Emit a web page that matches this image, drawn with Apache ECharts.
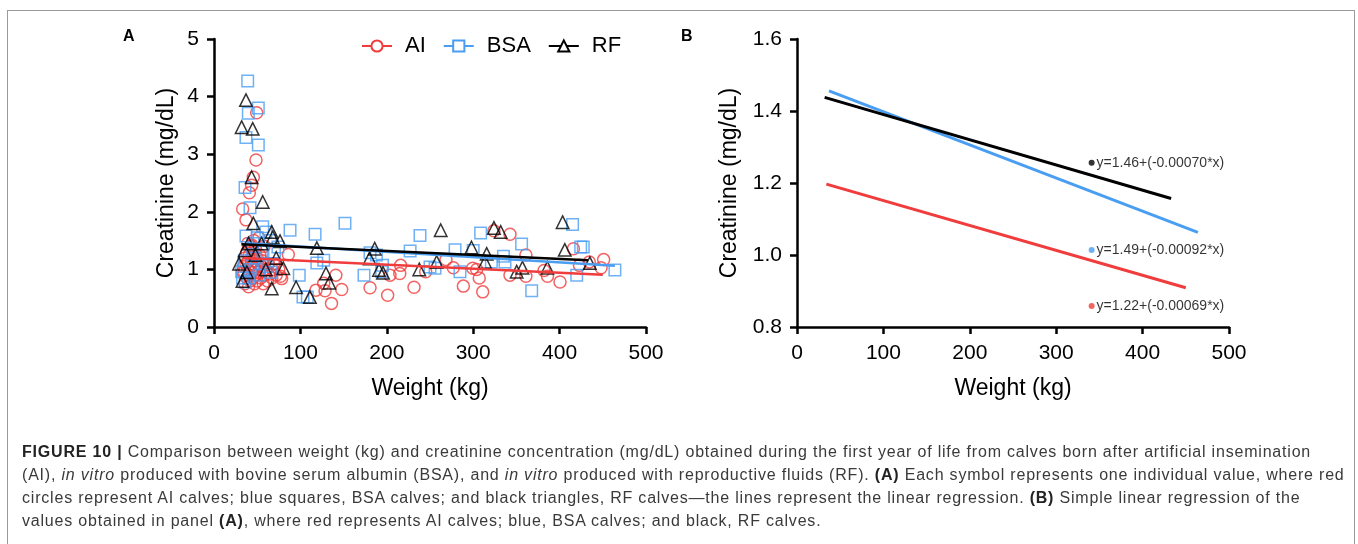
<!DOCTYPE html>
<html>
<head>
<meta charset="utf-8">
<script src="https://cdn.jsdelivr.net/npm/echarts@6/dist/echarts.min.js"></script>
<style>
  html, body { margin: 0; padding: 0; background: #fff; }
  #frame { position: absolute; left: 7px; top: 10px; width: 1348px; height: 600px; border: 1.5px solid #9a9a9a; border-bottom: none; box-sizing: border-box; }
  #chart { position: absolute; left: 0; top: 0; width: 1358px; height: 544px; }
  #caption { position: absolute; left: 22px; top: 440px; width: 1330px; font-family: "Liberation Sans", Arial, sans-serif; font-size: 16px; letter-spacing: 0.8px; line-height: 23px; color: #3a3a3a; white-space: nowrap; }
  #caption b { color: #222; }
</style>
</head>
<body>
<div id="frame"></div>
<div id="chart"></div>
<div id="caption">
<b>FIGURE 10 |</b> Comparison between weight (kg) and creatinine concentration (mg/dL) obtained during the first year of life from calves born after artificial insemination<br>
(AI), <i>in vitro</i> produced with bovine serum albumin (BSA), and <i>in vitro</i> produced with reproductive fluids (RF). <b>(A)</b> Each symbol represents one individual value, where red<br>
circles represent AI calves; blue squares, BSA calves; and black triangles, RF calves—the lines represent the linear regression. <b>(B)</b> Simple linear regression of the<br>
values obtained in panel <b>(A)</b>, where red represents AI calves; blue, BSA calves; and black, RF calves.
</div>
<script>
// ---- data: [weight kg, creatinine mg/dL] ----
const groupNames = ['AI', 'BSA', 'RF'];

const aiPoints = [
  [49.4,3.72],[48.6,2.90],[45.5,2.60],[43.6,2.46],[40.9,2.33],[33.2,2.05],[37,1.86],[86,1.26],[78.3,0.84],[69,1.10],
  [141,0.90],[127,0.76],[118,0.64],[128.5,0.63],[147.8,0.65],[136,0.41],
  [180.6,0.68],[201,0.55],[203.7,0.90],[216,1.07],[215,0.93],[231.5,0.69],[245,0.96],[268.5,1.17],[277,1.03],
  [288.6,0.71],[299.4,1.02],[304,1.00],[307,0.85],[311,0.61],[324,1.67],[342.6,1.61],[342.6,0.90],[361,1.25],
  [361,0.88],[382,0.98],[386,0.88],[400.5,0.78],[416,1.36],[423,1.07],[434.4,1.13],[448,1.03],[451,1.17],
  [34,1.05],[35,0.95],[36,1.20],[37,1.10],[38,0.85],[38,1.30],[39,1.00],[40,1.15],[40,0.90],[41,1.25],
  [42,1.05],[42,0.80],[43,1.40],[43,1.10],[44,0.95],[44,1.20],[45,1.30],[45,0.85],[46,1.05],[46,1.50],
  [47,1.15],[48,0.90],[48,1.35],[49,1.00],[50,1.20],[50,0.80],[51,1.10],[52,0.95],[53,1.25],[54,0.85],
  [55,1.05],[56,1.15],[58,0.90],[58,1.40],[60,1.00],[62,0.80],[63,1.10],[65,0.92],[67,0.85],[68,1.00],
  [70,1.10],[72,0.90],[36,0.75],[40,0.70],[47,0.75],[33,0.95],[52,1.55],[44,1.42],[57,0.75],[39,1.45],
  [75,1.00],[77,0.88]
];

const bsaPoints = [
  [39,4.27],[51.3,3.80],[39.7,3.71],[37,3.29],[51.3,3.16],[35.9,2.42],[41.7,2.07],[56.4,1.74],[37,1.58],
  [88,1.68],[117,1.61],[151.6,1.80],[127,1.16],[119,1.11],[98.7,0.90],[103,0.52],[108,0.52],[74,1.39],
  [173.6,0.90],[180.6,1.29],[188,1.25],[194,0.96],[195,1.07],[227,1.32],[238.4,1.59],[250,1.04],[255.8,1.02],
  [279,1.34],[284.7,0.96],[300,1.33],[308.6,1.63],[321,1.13],[335,1.23],[336.8,1.13],[356,1.44],[367.7,0.63],
  [415,1.78],[419.8,0.90],[424.4,1.39],[427.4,1.39],[464,0.99],
  [32,0.96],[36,0.78],[35,1.15],[40,0.85],[42,1.00],[45,1.45],[48,1.20],[52,0.90],[55,1.30],[58,1.10],
  [62,1.05],[65,1.50],[70,1.30],[60,1.65],[50,1.55],[33,0.85],[44,1.25],[66,0.95]
];

const rfPoints = [
  [37,3.94],[32,3.47],[44.8,3.44],[43.6,2.60],[56.4,2.17],[45.5,1.80],[66.8,1.65],[76.4,1.49],[119,1.37],
  [129.6,0.93],[133.5,0.77],[95,0.69],[111,0.52],[80.2,1.02],[66.8,0.67],
  [186,1.36],[180,1.19],[191,0.99],[195.6,0.94],[237.6,1.00],[257.7,1.13],[262.4,1.68],[298,1.38],[315.6,1.27],
  [313.7,1.13],[324,1.72],[331.8,1.65],[350.3,0.96],[357,1.03],[385.8,1.03],[403.5,1.82],[406,1.34],[435,1.11],
  [29,1.10],[33,0.80],[35.5,1.33],[40,1.45],[48,1.25],[55,1.45],[60,1.00],[68,1.56],[72,1.20],[38,0.95]
];

// regression line end points [weight, creatinine]
const aiFit  = [[34, 1.197], [450, 0.909]];
const bsaFit = [[37, 1.456], [464, 1.063]];
const rfFit  = [[32, 1.438], [433, 1.157]];

const equations = ['y=1.22+(-0.00069*x)', 'y=1.49+(-0.00092*x)', 'y=1.46+(-0.00070*x)'];

// ---- styles ----
const RED = '#f03c3c', BLUE = '#4a9ef2', BLACK = '#000000';
const FONT = '"Liberation Sans", Arial, sans-serif';

function xAxisDef(gi) {
  return {
    gridIndex: gi, type: 'value', min: 0, max: 500, interval: 100,
    name: 'Weight (kg)', nameLocation: 'middle', nameGap: 50,
    nameTextStyle: { fontSize: 23, color: '#000', fontFamily: FONT },
    axisLine: { show: true, lineStyle: { color: '#000', width: 2.5 } },
    axisTick: { show: true, inside: false, length: 7, lineStyle: { color: '#000', width: 2.5 } },
    axisLabel: { fontSize: 21, color: '#000', fontFamily: FONT, margin: 16 },
    splitLine: { show: false }
  };
}
function yAxisDef(gi, min, max, interval, gap, fmt) {
  return {
    gridIndex: gi, type: 'value', min: min, max: max, interval: interval,
    name: 'Creatinine (mg/dL)', nameLocation: 'middle', nameGap: gap,
    nameTextStyle: { fontSize: 23, color: '#000', fontFamily: FONT },
    axisLine: { show: true, lineStyle: { color: '#000', width: 2.5 } },
    axisTick: { show: true, inside: false, length: 7, lineStyle: { color: '#000', width: 2.5 } },
    axisLabel: { fontSize: 21, color: '#000', fontFamily: FONT, margin: 15, formatter: fmt },
    splitLine: { show: false }
  };
}

function scatterDef(name, data, symbol, color, size) {
  return {
    name: name, type: 'scatter', xAxisIndex: 0, yAxisIndex: 0, data: data,
    symbol: symbol, symbolSize: size, z: 2,
    itemStyle: { color: 'rgba(0,0,0,0)', borderColor: color, borderWidth: 1.5 },
    emphasis: { disabled: true }
  };
}
function fitDef(name, data, color, symbol, gi, width) {
  return {
    name: name, type: 'line', xAxisIndex: gi, yAxisIndex: gi, data: data,
    symbol: symbol, showSymbol: false, symbolSize: 11, z: 3,
    itemStyle: { color: color },
    lineStyle: { color: color, width: width },
    emphasis: { disabled: true }
  };
}

const chart = echarts.init(document.getElementById('chart'), null, { renderer: 'canvas' });
chart.setOption({
  animation: false,
  backgroundColor: 'transparent',
  textStyle: { fontFamily: FONT },
  grid: [
    { left: 214, top: 39, width: 432, height: 288 },
    { left: 797, top: 39, width: 432, height: 288 }
  ],
  xAxis: [xAxisDef(0), xAxisDef(1)],
  yAxis: [
    yAxisDef(0, 0, 5, 1, 36, v => String(v)),
    yAxisDef(1, 0.8, 1.6, 0.2, 56, v => v.toFixed(1))
  ],
  legend: {
    data: groupNames,
    left: 356, top: 30,
    itemWidth: 30, itemHeight: 14, itemGap: 17,
    textStyle: { fontSize: 22, color: '#000', fontFamily: FONT, padding: [0, 0, 0, 8] },
    selectedMode: false
  },
  graphic: [
    { type: 'text', left: 123, top: 29, style: { text: 'A', font: 'bold 16px ' + FONT, fill: '#000' } },
    { type: 'text', left: 681, top: 29, style: { text: 'B', font: 'bold 16px ' + FONT, fill: '#000' } }
  ],
  series: [
    fitDef('AI', aiFit, RED, 'emptyCircle', 0, 2.5),
    fitDef('BSA', bsaFit, BLUE, 'emptyRect', 0, 2.5),
    fitDef('RF', rfFit, BLACK, 'emptyTriangle', 0, 2.5),
    scatterDef('AI points', aiPoints, 'circle', RED, 12),
    scatterDef('BSA points', bsaPoints, 'rect', BLUE, 11.5),
    scatterDef('RF points', rfPoints, 'triangle', BLACK, 12.5),
    fitDef('AI B', aiFit, RED, 'none', 1, 3),
    fitDef('BSA B', bsaFit, BLUE, 'none', 1, 3),
    fitDef('RF B', rfFit, BLACK, 'none', 1, 3),
    {
      name: 'equations', type: 'scatter', xAxisIndex: 1, yAxisIndex: 1,
      symbol: 'circle', symbolSize: 6, z: 4,
      data: [
        { value: [341, 0.858], itemStyle: { color: RED }, label: { formatter: equations[0] } },
        { value: [341, 1.014], itemStyle: { color: BLUE }, label: { formatter: equations[1] } },
        { value: [341, 1.256], itemStyle: { color: BLACK }, label: { formatter: equations[2] } }
      ],
      label: { show: true, position: 'right', distance: 2, fontSize: 14, color: '#000', fontFamily: FONT },
      emphasis: { disabled: true }
    }
  ]
});
</script>
</body>
</html>
